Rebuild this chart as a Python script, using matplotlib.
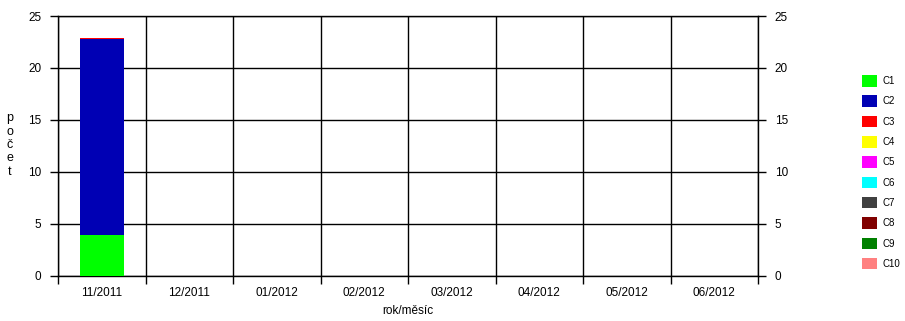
import matplotlib
matplotlib.use('Agg')
import matplotlib.pyplot as plt
from matplotlib.patches import Patch
import numpy as np

# Monate (Kategorien) und Werte je Serie
mesice = ['11/2011', '12/2011', '01/2012', '02/2012', '03/2012', '04/2012', '05/2012', '06/2012']
serie = ['C1', 'C2', 'C3', 'C4', 'C5', 'C6', 'C7', 'C8', 'C9', 'C10']
barvy = ['#00ff00', '#0000b4', '#ff0000', '#ffff00', '#ff00ff', '#00ffff',
         '#404040', '#800000', '#008000', '#ff8080']
c1 = [3.9, 0, 0, 0, 0, 0, 0, 0]
c2 = [18.93, 0, 0, 0, 0, 0, 0, 0]
c3 = [0.07, 0, 0, 0, 0, 0, 0, 0]
nuly = [0, 0, 0, 0, 0, 0, 0, 0]
hodnoty = [c1, c2, c3, nuly, nuly, nuly, nuly, nuly, nuly, nuly]

plt.rcParams['font.family'] = ['Liberation Sans', 'DejaVu Sans']
plt.rcParams['font.size'] = 8.5

fig = plt.figure(figsize=(9.05, 3.21), dpi=100)
ax = fig.add_axes([0.0641, 0.1417, 0.7735, 0.8083])

x = np.arange(len(mesice))
spodek = np.zeros(len(mesice))
for nazev, barva, h in zip(serie, barvy, hodnoty):
    h = np.array(h, dtype=float)
    ax.bar(x, h, width=0.5, bottom=spodek, color=barva, zorder=3)
    spodek += h

ax.set_xlim(-0.5, len(mesice) - 0.5)
ax.set_ylim(0, 25)
ax.set_yticks(range(0, 26, 5))
ax.set_xticks(x)
ax.set_xticklabels(mesice)
ax.set_xticks(np.arange(len(mesice) + 1) - 0.5, minor=True)

ax.tick_params(axis='x', which='major', length=0, pad=8)
ax.tick_params(axis='x', which='minor', length=6, width=1, color='black')
ax.tick_params(axis='y', which='major', length=6, width=1, left=True, right=True,
               labelleft=True, labelright=True, pad=6)

ax.grid(axis='y', which='major', color='black', linewidth=1, zorder=1)
ax.grid(axis='x', which='minor', color='black', linewidth=1, zorder=1)
for s in ax.spines.values():
    s.set_color('black')
    s.set_linewidth(1)

# Popisky os
fig.text(0.011, 0.548, 'p\no\nč\ne\nt', ha='center', va='center', fontsize=9, linespacing=1.15)
fig.text(0.451, 0.03, 'rok/měsíc', ha='center', va='center', fontsize=8.5)

# Legenda
handles = [Patch(facecolor=b, edgecolor='none') for b in barvy]
fig.legend(handles, serie, loc='upper left', bbox_to_anchor=(0.948, 0.778),
           frameon=False, handlelength=1.55, handleheight=1.45, handletextpad=0.6,
           labelspacing=0.9, fontsize=7, borderaxespad=0)

plt.savefig('out.png', dpi=100)
